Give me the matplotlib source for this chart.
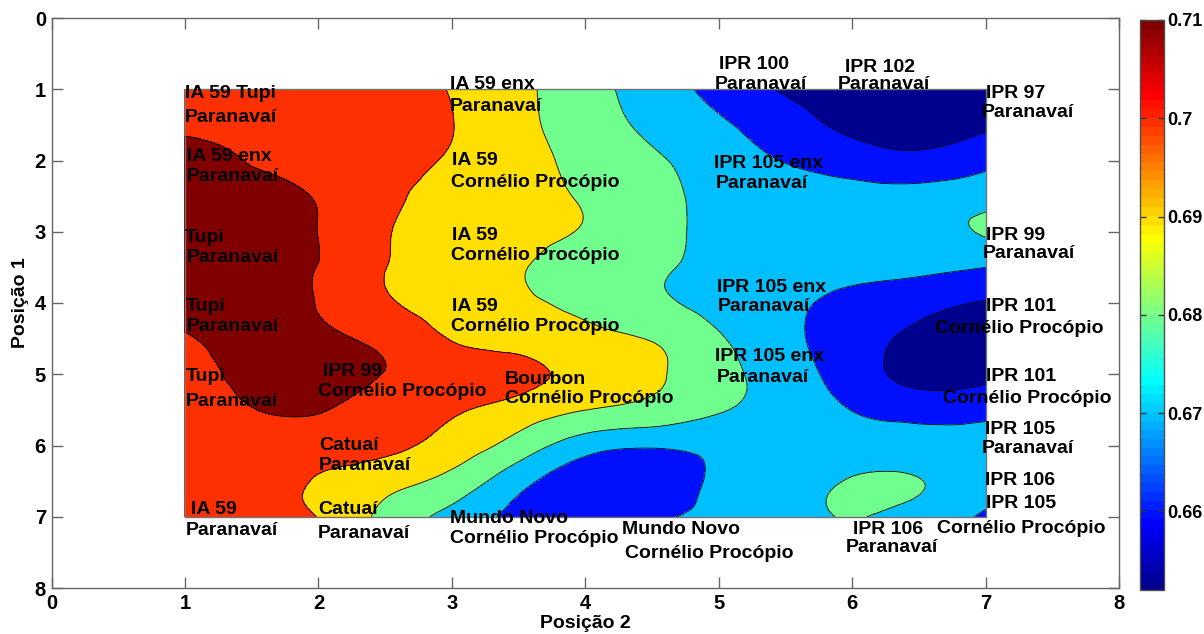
import numpy as np
import matplotlib
matplotlib.use("Agg")
import matplotlib.pyplot as plt
import matplotlib.tri as mtri
from matplotlib.colors import ListedColormap, Normalize
from matplotlib.cm import ScalarMappable
from matplotlib.patches import Rectangle

# ---------------- data ----------------
pos2 = [1.0, 1.5, 2.0, 2.5, 3.0, 3.5, 4.0, 4.5, 5.0, 5.5, 6.0, 6.5, 7.0]   # x (Posição 2)
pos1 = [1.0, 1.5, 2.0, 2.5, 3.0, 3.5, 4.0, 4.5, 5.0, 5.5, 6.0, 6.5, 7.0]   # y (Posição 1)

z_rows = [
    [0.7070, 0.7080, 0.7070, 0.7040, 0.6995, 0.6923, 0.6839, 0.6752, 0.6668, 0.6589, 0.6545, 0.6522, 0.6535],
    [0.7090, 0.7090, 0.7070, 0.7040, 0.7002, 0.6927, 0.6851, 0.6778, 0.6715, 0.6643, 0.6580, 0.6565, 0.6585],
    [0.7120, 0.7098, 0.7075, 0.7035, 0.6990, 0.6932, 0.6875, 0.6814, 0.6756, 0.6695, 0.6650, 0.6625, 0.6670],
    [0.7125, 0.7115, 0.7094, 0.7020, 0.6973, 0.6933, 0.6891, 0.6832, 0.6775, 0.6750, 0.6735, 0.6740, 0.6765],
    [0.7125, 0.7120, 0.7099, 0.7007, 0.6967, 0.6931, 0.6893, 0.6833, 0.6780, 0.6760, 0.6755, 0.6772, 0.6808],
    [0.7128, 0.7120, 0.7098, 0.7002, 0.6954, 0.6907, 0.6859, 0.6815, 0.6775, 0.6745, 0.6730, 0.6725, 0.6700],
    [0.7125, 0.7118, 0.7097, 0.7014, 0.6962, 0.6915, 0.6878, 0.6822, 0.6768, 0.6719, 0.6674, 0.6630, 0.6595],
    [0.7095, 0.7115, 0.7110, 0.7075, 0.6996, 0.6962, 0.6928, 0.6895, 0.6811, 0.6723, 0.6648, 0.6575, 0.6555],
    [0.7085, 0.7108, 0.7112, 0.7098, 0.7045, 0.7025, 0.6964, 0.6913, 0.6836, 0.6743, 0.6654, 0.6565, 0.6575],
    [0.7065, 0.7098, 0.7104, 0.7065, 0.7012, 0.6961, 0.6901, 0.6868, 0.6809, 0.6755, 0.6698, 0.6665, 0.6675],
    [0.7045, 0.7050, 0.7045, 0.7025, 0.6959, 0.6858, 0.6745, 0.6712, 0.6725, 0.6730, 0.6750, 0.6742, 0.6725],
    [0.7025, 0.7012, 0.6995, 0.6938, 0.6866, 0.6734, 0.6635, 0.6625, 0.6722, 0.6762, 0.6806, 0.6803, 0.6735],
    [0.7030, 0.7015, 0.6998, 0.6872, 0.6768, 0.6672, 0.6645, 0.6685, 0.6725, 0.6772, 0.6803, 0.6760, 0.6685],
]

contour_levels = [0.66, 0.67, 0.68, 0.69, 0.70, 0.71]
cbar_min, cbar_max = 0.652, 0.71
cbar_ticks = [0.66, 0.67, 0.68, 0.69, 0.70, 0.71]
cbar_ticklabels = ["0.66", "0.67", "0.68", "0.69", "0.7", "0.71"]
axis_ticks = [0, 1, 2, 3, 4, 5, 6, 7, 8]

label_text = [
    "IA 59 Tupi", "Paranavaí", "IA 59 enx", "Paranavaí", "Tupi", "Paranavaí",
    "Tupi", "Paranavaí", "Tupi", "Paranavaí", "IA 59", "Paranavaí",
    "IA 59 enx", "Paranavaí", "IA 59", "Cornélio Procópio", "IA 59", "Cornélio Procópio",
    "IA 59", "Cornélio Procópio", "IPR 99", "Cornélio Procópio", "Bourbon", "Cornélio Procópio",
    "Catuaí", "Paranavaí", "Catuaí", "Paranavaí", "Mundo Novo", "Cornélio Procópio",
    "Mundo Novo", "Cornélio Procópio", "IPR 106", "Paranavaí", "IPR 106", "IPR 105",
    "Cornélio Procópio", "IPR 105", "Paranavaí", "IPR 101", "Cornélio Procópio",
    "IPR 105 enx", "Paranavaí", "IPR 100", "Paranavaí", "IPR 102", "Paranavaí",
    "IPR 97", "Paranavaí", "IPR 105 enx", "Paranavaí", "IPR 99", "Paranavaí",
    "IPR 105 enx", "Paranavaí", "IPR 101", "Cornélio Procópio",
]
label_x = [
    1.000, 1.000, 1.013, 1.015, 1.000, 1.015,
    1.007, 1.015, 1.007, 1.007, 1.045, 1.007,
    2.985, 2.985, 3.000, 2.993, 3.000, 2.993,
    3.000, 2.993, 2.034, 1.996, 3.397, 3.397,
    2.004, 2.004, 1.996, 1.996, 2.985, 2.985,
    4.273, 4.296, 6.004, 5.951, 6.993, 7.000,
    6.633, 6.993, 6.970, 7.000, 6.678,
    4.970, 4.985, 5.000, 4.970, 5.944, 5.891,
    7.000, 6.970, 4.962, 4.977, 7.000, 6.978,
    4.985, 4.993, 7.000, 6.618,
]
label_y = [
    1.123, 1.460, 2.014, 2.281, 3.144, 3.425,
    4.112, 4.393, 5.095, 5.446, 6.961, 7.256,
    0.996, 1.305, 2.063, 2.372, 3.116, 3.396,
    4.112, 4.393, 5.025, 5.305, 5.137, 5.404,
    6.063, 6.344, 6.961, 7.298, 7.088, 7.368,
    7.242, 7.579, 7.242, 7.495, 6.554, 6.877,
    7.228, 5.839, 6.105, 5.095, 5.404,
    4.814, 5.109, 0.716, 0.996, 0.758, 0.996,
    1.123, 1.389, 2.105, 2.386, 3.116, 3.368,
    3.846, 4.112, 4.112, 4.421,
]

# ---------------- colormap (MATLAB-style jet, 64 steps) ----------------
i = np.arange(1, 65)
r = np.clip(np.minimum((i - 24) / 16, (72 - i) / 16), 0, 1)
g = np.clip(np.minimum((i - 8) / 16, (56 - i) / 16), 0, 1)
b = np.clip(np.minimum((i + 8) / 16, (40 - i) / 16), 0, 1)
jet64 = np.column_stack([r, g, b])
cmap = ListedColormap(jet64)

def jet_color(v):
    idx = int(np.floor((v - cbar_min) / (cbar_max - cbar_min) * 64))
    return tuple(jet64[min(max(idx, 0), 63)])

Z = np.array(z_rows)
X, Y = np.meshgrid(pos2, pos1)

# smooth rendering of the grid through matplotlib's own triangulation refiner
triang = mtri.Triangulation(X.ravel(), Y.ravel())
refiner = mtri.UniformTriRefiner(triang)
tri_f, z_f = refiner.refine_field(Z.ravel(), subdiv=3)

fill_levels = [min(z_f.min(), cbar_min) - 0.01] + contour_levels + [z_f.max() + 0.01]
fill_colors = [jet_color(cbar_min)] + [jet_color(v) for v in contour_levels[:-1]] + [jet_color(cbar_max)]

# ---------------- figure ----------------
FONT = "Liberation Sans"
W, H = 1204, 634
fig = plt.figure(figsize=(W / 100, H / 100), dpi=100)
fig.patch.set_facecolor("white")

ax = fig.add_axes([51.5 / W, (H - 588) / H, (1119 - 51.5) / W, 570 / H])
ax.tricontourf(tri_f, z_f, levels=fill_levels, colors=fill_colors)
ax.tricontour(tri_f, z_f, levels=contour_levels, colors="k", linewidths=0.6)
ax.add_patch(Rectangle((min(pos2), min(pos1)), max(pos2) - min(pos2), max(pos1) - min(pos1),
                       fill=False, edgecolor="0.45", linewidth=1.0, zorder=3))

ax.set_xlim(0, 8)
ax.set_ylim(8, 0)
ax.set_xticks(axis_ticks)
ax.set_yticks(axis_ticks)
ax.set_xticklabels([str(t) for t in axis_ticks])
ax.set_yticklabels([str(t) for t in axis_ticks])
ax.tick_params(direction="in", top=True, right=True, length=8, width=1, color="0.4",
               labelsize=14.5, pad=4)
for lab in ax.get_xticklabels() + ax.get_yticklabels():
    lab.set_fontweight("bold")
    lab.set_fontfamily(FONT)
for sp in ax.spines.values():
    sp.set_color("0.4")
    sp.set_linewidth(1.0)

ax.set_xlabel("Posição 2", fontsize=14, fontweight="bold", family=FONT, labelpad=2)
ax.set_ylabel("Posição 1", fontsize=14, fontweight="bold", family=FONT, labelpad=4)

for s, x, y in zip(label_text, label_x, label_y):
    ax.text(x, y, s, fontsize=14, fontweight="bold", family=FONT, ha="left", va="baseline",
            color="black", clip_on=False, zorder=5)

# ---------------- colorbar ----------------
cax = fig.add_axes([1140 / W, (H - 590) / H, 24 / W, 570 / H])
sm = ScalarMappable(norm=Normalize(cbar_min, cbar_max), cmap=cmap)
cb = fig.colorbar(sm, cax=cax, ticks=cbar_ticks)
cb.set_ticklabels(cbar_ticklabels)
cb.outline.set_edgecolor("0.3")
cb.outline.set_linewidth(1.0)
cax.tick_params(direction="in", left=True, right=True, length=4, width=1, color="0.2",
                labelsize=13, pad=2)
for lab in cax.get_yticklabels():
    lab.set_fontweight("bold")
    lab.set_fontfamily(FONT)

fig.savefig("out.png", dpi=100)
